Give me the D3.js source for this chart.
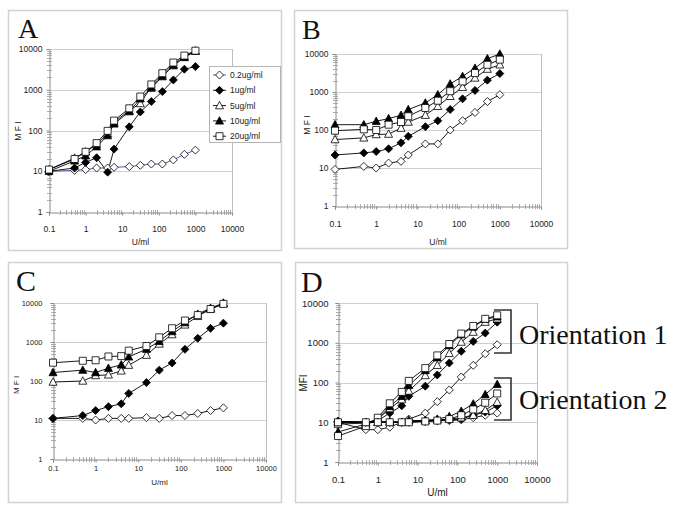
<!DOCTYPE html>
<html>
<head>
<meta charset="utf-8">
<script src="https://cdn.jsdelivr.net/npm/d3@7"></script>
<style>
  body { margin: 0; background: #fff; }
  svg { display: block; }
  text { font-family: "Liberation Sans", Arial, sans-serif; fill: #222; }
  .letter { font-family: "Liberation Serif", "Times New Roman", serif; fill: #111; }
</style>
</head>
<body>
<svg width="675" height="511"></svg>
<script>
// concentrations (U/ml) used on every panel
var xVals = [0.1, 0.5, 1, 2, 4, 6, 15.6, 31.25, 62.5, 125, 250, 500, 1000];
var seriesNames = ["0.2ug/ml", "1ug/ml", "5ug/ml", "10ug/ml", "20ug/ml"];
var yTicks = [1, 10, 100, 1000, 10000];
var xTicks = [0.1, 1, 10, 100, 1000, 10000];

// panel A
var a02 = [10, 10.5, 11, 12, 12, 12.5, 13, 14, 15, 15, 19, 26, 33];
var a1  = [10, 12, 16.5, 21.5, 9.5, 35, 123, 285, 515, 900, 1740, 3200, 3700];
var a5  = [11, 21, 30, 45, 85, 160, 310, 460, 1200, 2300, 4200, 6500, 9000];
var a10 = [10, 18, 24, 40, 75, 145, 290, 600, 1100, 2100, 3900, 6200, 8800];
var a20 = [11, 20, 30, 49, 98, 175, 350, 680, 1350, 2550, 4650, 6900, 9100];

// panel B
var b02 = [9.2, 11, 10, 13.5, 15, 22, 43, 43, 100, 175, 290, 560, 850];
var b1  = [22, 25, 27, 32, 46, 68, 122, 175, 345, 660, 1100, 2050, 3050];
var b5  = [56, 62, 76, 78, 112, 162, 245, 420, 770, 1330, 2340, 4000, 5200];
var b10 = [138, 138, 170, 200, 245, 345, 515, 850, 1630, 2580, 4250, 7550, 10000];
var b20 = [96, 104, 100, 138, 162, 230, 380, 590, 1050, 1900, 3150, 5200, 7100];

// panel C
var c02 = [11, 11, 10, 11, 11, 11, 11.5, 11, 13, 13, 14.7, 17.5, 20.5];
var c1  = [11, 13, 17.5, 22, 26, 48, 91, 190, 290, 650, 1240, 2240, 3040];
var c5  = [94, 100, 138, 144, 182, 255, 460, 890, 1550, 2750, 4550, 7000, 9600];
var c10 = [165, 190, 165, 213, 260, 415, 655, 1040, 1860, 3150, 5200, 7400, 10000];
var c20 = [295, 330, 340, 425, 435, 600, 790, 1320, 2250, 3550, 4900, 7000, 9500];

// panel D, orientation 1
var d1_02 = [10, 6.5, 6.5, 7.5, 10, 12, 17, 33, 65, 138, 270, 530, 890];
var d1_1  = [10.5, 10, 11, 17, 26, 45, 81, 155, 310, 610, 1080, 1750, 3300];
var d1_5  = [9, 9.5, 12, 22, 37, 61, 150, 270, 540, 1040, 1850, 3300, 4000];
var d1_10 = [5.7, 9, 12, 25, 45, 85, 200, 420, 850, 1600, 2500, 3900, 4500];
var d1_20 = [4.5, 8, 13, 30, 58, 110, 230, 480, 930, 1700, 2650, 4000, 4900];
// panel D, orientation 2
var d2_02 = [10, 10, 10, 10, 10, 10.5, 10.5, 11, 11, 11.5, 13, 15, 17];
var d2_1  = [10.5, 10, 10, 10, 10, 10, 10.5, 11, 11.5, 12, 15, 18, 26];
var d2_5  = [10, 10, 10, 10, 10, 11, 11, 11.5, 12, 13, 15, 20, 32];
var d2_10 = [10.5, 10, 10, 10.5, 10, 11, 11, 12, 14, 19, 29, 50, 90];
var d2_20 = [10, 10, 10, 10, 10, 10, 10.5, 11, 12, 15, 21, 31, 53];

var shapes = ["diamond", "diamond", "triangle", "triangle", "square"];
var fills  = ["#fff", "#000", "#fff", "#000", "#fff"];

var panels = [
  { letter: "A", lx: 18, ly: 38, lsize: 28,
    frame: [8, 10, 273, 240], plot: { l: 49, r: 232, t: 49, b: 212 },
    fs: 8.5, ylabDx: 7, xlabDy: 19, titleY: 245, ytitle: "M F I", ytx: 21, yty: 131, tfs: 8.5,
    series: [a02, a1, a5, a10, a20], lineCol: ["#4a4a9c", "#000", "#000", "#000", "#000"] },
  { letter: "B", lx: 302, ly: 39, lsize: 28,
    frame: [294, 10, 273, 238], plot: { l: 335, r: 541, t: 54, b: 206 },
    fs: 8.5, ylabDx: 7, xlabDy: 20, titleY: 245, ytitle: "M F I", ytx: 310, yty: 125, tfs: 8.5,
    series: [b02, b1, b5, b10, b20] },
  { letter: "C", lx: 16, ly: 291, lsize: 30,
    frame: [8, 262, 273, 240], plot: { l: 53, r: 266, t: 303, b: 459 },
    fs: 7.5, ylabDx: 11, xlabDy: 11, titleY: 485, ytitle: "M F I", ytx: 19, yty: 385, tfs: 8,
    series: [c02, c1, c5, c10, c20] },
  { letter: "D", lx: 301, ly: 292, lsize: 30,
    frame: [295, 262, 272, 240], plot: { l: 338, r: 537, t: 303, b: 462 },
    fs: 9.5, ylabDx: 10, xlabDy: 20, titleY: 496, ytitle: "MFI", ytx: 307, yty: 383, tfs: 10,
    series: [d1_02, d1_1, d1_5, d1_10, d1_20, d2_02, d2_1, d2_5, d2_10, d2_20] }
];

function markPath(kind) {
  if (kind == "diamond") return "M0,-4L4,0L0,4L-4,0Z";
  if (kind == "triangle") return "M0,-4.2L4,3.2L-4,3.2Z";
  return "M-3.5,-3.5H3.5V3.5H-3.5Z";
}

var svg = d3.select("svg");

// minor log ticks 2..9 in every decade
function minors(lo, hi) {
  var out = [];
  for (var e = lo; e < hi; e++)
    for (var k = 2; k <= 9; k++) out.push(k * Math.pow(10, e));
  return out;
}

panels.forEach(function(p) {
  var g = svg.append("g");
  var f = p.frame;
  g.append("rect").attr("x", f[0] + 0.5).attr("y", f[1] + 0.5).attr("width", f[2]).attr("height", f[3])
    .attr("fill", "#fff").attr("stroke", "#d2d2d2").attr("stroke-width", 1.5);

  g.append("text").attr("class", "letter").attr("x", p.lx).attr("y", p.ly)
    .style("font-size", p.lsize + "px").text(p.letter);

  var x = d3.scaleLog().domain([0.1, 10000]).range([p.plot.l, p.plot.r]);
  var y = d3.scaleLog().domain([1, 10000]).range([p.plot.b, p.plot.t]);

  // gridlines + plot frame
  g.append("g").selectAll("line").data(yTicks.slice(1)).enter().append("line")
    .attr("x1", p.plot.l).attr("x2", p.plot.r)
    .attr("y1", function(d) { return Math.round(y(d)) + 0.5; })
    .attr("y2", function(d) { return Math.round(y(d)) + 0.5; })
    .attr("stroke", "#cfcfcf").attr("stroke-width", 1);
  g.append("line").attr("x1", p.plot.r + 0.5).attr("x2", p.plot.r + 0.5)
    .attr("y1", p.plot.t).attr("y2", p.plot.b).attr("stroke", "#bdbdbd");

  // axes
  var yAxis = d3.axisLeft(y).tickValues(yTicks).tickFormat(d3.format("d")).tickSize(3).tickPadding(p.ylabDx - 3);
  var ya = g.append("g").attr("transform", "translate(" + (p.plot.l + 0.5) + ",0)").call(yAxis);
  var xAxis = d3.axisBottom(x).tickValues(xTicks).tickFormat(function(d) { return d; }).tickSize(3);
  var xa = g.append("g").attr("transform", "translate(0," + (p.plot.b + 0.5) + ")").call(xAxis);
  [ya, xa].forEach(function(ax) {
    ax.select(".domain").attr("stroke", "#8a8a8a");
    ax.selectAll(".tick line").attr("stroke", "#8a8a8a");
    ax.selectAll("text").style("font-size", p.fs + "px").attr("fill", "#222").style("font-family", "'Liberation Sans', Arial, sans-serif");
  });
  xa.selectAll("text").attr("dy", 0).attr("y", p.xlabDy);

  g.append("g").selectAll("line").data(minors(0, 4)).enter().append("line")
    .attr("x1", p.plot.l - 2).attr("x2", p.plot.l + 3)
    .attr("y1", function(d) { return Math.round(y(d)) + 0.5; })
    .attr("y2", function(d) { return Math.round(y(d)) + 0.5; })
    .attr("stroke", "#9a9a9a").attr("stroke-width", 0.8);
  g.append("g").selectAll("line").data(minors(-1, 4)).enter().append("line")
    .attr("y1", p.plot.b - 2).attr("y2", p.plot.b + 3)
    .attr("x1", function(d) { return Math.round(x(d)) + 0.5; })
    .attr("x2", function(d) { return Math.round(x(d)) + 0.5; })
    .attr("stroke", "#9a9a9a").attr("stroke-width", 0.8);

  g.append("text").attr("x", (p.plot.l + p.plot.r) / 2).attr("y", p.titleY)
    .attr("text-anchor", "middle").style("font-size", p.tfs + "px").text("U/ml");
  g.append("text").attr("transform", "translate(" + p.ytx + "," + p.yty + ") rotate(-90)")
    .attr("text-anchor", "middle").style("font-size", p.tfs + "px").text(p.ytitle);

  var line = d3.line().x(function(d, i) { return x(xVals[i]); }).y(function(d) { return y(d); });

  p.series.forEach(function(vals, si) {
    var k = si % 5;
    var col = p.lineCol ? p.lineCol[k] : "#000";
    g.append("path").datum(vals).attr("d", line).attr("fill", "none")
      .attr("stroke", col).attr("stroke-width", 0.9);
  });
  p.series.forEach(function(vals, si) {
    var k = si % 5;
    g.append("g").selectAll("path").data(vals).enter().append("path")
      .attr("transform", function(d, i) { return "translate(" + x(xVals[i]) + "," + y(d) + ")"; })
      .attr("d", markPath(shapes[k]))
      .attr("fill", fills[k]).attr("stroke", "#000").attr("stroke-width", 0.8);
  });

  if (p.letter == "A") {
    var lg = g.append("g");
    lg.append("rect").attr("x", 209.5).attr("y", 66.5).attr("width", 71).attr("height", 76)
      .attr("fill", "#fff").attr("stroke", "#b5b5b5");
    seriesNames.forEach(function(name, i) {
      var yy = 75 + i * 15.3;
      lg.append("line").attr("x1", 213).attr("x2", 226).attr("y1", yy).attr("y2", yy)
        .attr("stroke", i == 0 ? "#4a4a9c" : "#000").attr("stroke-width", 0.9);
      lg.append("path").attr("transform", "translate(219.5," + yy + ")").attr("d", markPath(shapes[i]))
        .attr("fill", fills[i]).attr("stroke", "#000").attr("stroke-width", 0.8);
      lg.append("text").attr("x", 230).attr("y", yy + 3).style("font-size", "8.5px").text(name);
    });
  }

  if (p.letter == "D") {
    var brackets = [[310, 353, "Orientation 1", 344], [378, 420, "Orientation 2", 409]];
    brackets.forEach(function(b) {
      g.append("path").attr("d", "M494," + b[0] + "H511V" + b[1] + "H494")
        .attr("fill", "none").attr("stroke", "#333").attr("stroke-width", 1.6);
      g.append("text").attr("class", "letter").attr("x", 519).attr("y", b[3])
        .style("font-size", "28px").text(b[2]);
    });
  }
});
</script>
</body>
</html>
